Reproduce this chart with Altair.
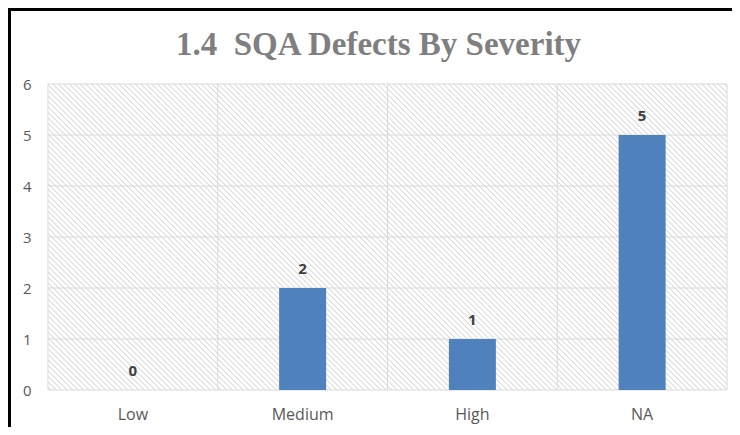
import altair as alt
import pandas as pd

# ---- data ----
categories = ["Low", "Medium", "High", "NA"]
counts = [0, 2, 1, 5]
y_ticks = [0, 1, 2, 3, 4, 5, 6]
title_text = "1.4\u00a0\u00a0SQA Defects By Severity"

# ---- layout / style ----
W, H = 679, 306
GRID = "#d9d9d9"
LABEL = "#595959"

df = pd.DataFrame({"severity": categories, "count": counts})
grid_df = pd.DataFrame({"count": y_ticks})
one = pd.DataFrame({"d": [0]})
title_df = pd.DataFrame({"t": [title_text]})

# diagonal "\\" hatch texture as one custom symbol path (style only)
P = 5.5
segs = []
c = -H + P / 2
while c < W:
    y0 = max(0.0, -c)
    y1 = min(float(H), W - c)
    if y1 > y0:
        segs.append(
            f"M{y0 + c - W / 2:.2f},{y0 - H / 2:.2f}L{y1 + c - W / 2:.2f},{y1 - H / 2:.2f}"
        )
    c += P
hatch_path = "".join(segs)

x_axis = alt.Axis(
    title=None, labelAngle=0, ticks=False, domain=False, grid=False,
    labelFontSize=16, labelColor=LABEL, labelFont="Open Sans",
    labelPadding=29, labelBaseline="alphabetic",
)
y_axis = alt.Axis(
    title=None, values=y_ticks, ticks=False, domain=False, grid=False,
    labelFontSize=15, labelColor=LABEL, labelFont="Open Sans", labelPadding=17,
)
x_scale = alt.Scale(paddingInner=0, paddingOuter=0)
y_scale = alt.Scale(domain=[0, 6], nice=False)

X = alt.X("severity:N", sort=categories, scale=x_scale, axis=x_axis)
Y = alt.Y("count:Q", scale=y_scale, axis=y_axis)

hatch = alt.Chart(one).mark_point(
    shape=hatch_path, size=4, filled=False, fill=None, stroke="#cdcdcd",
    strokeWidth=1, opacity=1,
).encode(x=alt.value(W / 2), y=alt.value(H / 2))

hgrid = alt.Chart(grid_df).mark_rule(color=GRID, strokeWidth=1).encode(y=Y)

vgrid = alt.Chart(df).mark_rule(color=GRID, strokeWidth=1).encode(
    x=alt.X("severity:N", sort=categories, scale=x_scale, axis=x_axis, bandPosition=0)
)

right_edge = alt.Chart(one).mark_rule(color=GRID, strokeWidth=1).encode(
    x=alt.value(W), y=alt.value(0), y2=alt.value(H)
)

bars = alt.Chart(df).mark_bar(size=47, color="#4f81bd").encode(x=X, y=Y)

labels = alt.Chart(df).mark_text(
    dy=-14, baseline="alphabetic", fontWeight="bold", fontSize=15,
    color="#404040", font="Open Sans",
).encode(x=X, y=Y, text="count:Q")

title = alt.Chart(title_df).mark_text(
    font="Liberation Serif", fontSize=33, fontWeight="bold", color="#7f7f7f",
    align="center", baseline="alphabetic",
).encode(x=alt.value(W / 2 - 9), y=alt.value(-29), text="t:N")

border_left = alt.Chart(one).mark_rule(color="black", strokeWidth=3).encode(
    x=alt.value(-38.5), y=alt.value(-76), y2=alt.value(H + 37)
)
border_top = alt.Chart(one).mark_rule(color="black", strokeWidth=3).encode(
    x=alt.value(-40), x2=alt.value(W + 5), y=alt.value(-74.5)
)

chart = alt.layer(
    hatch, hgrid, vgrid, right_edge, bars, labels, title, border_left, border_top
).properties(
    width=W,
    height=H,
    autosize=alt.AutoSizeParams(type="none"),
    padding={"left": 40, "top": 76, "right": 5, "bottom": 37},
    background="white",
).configure_view(stroke=None)

chart.save("out.html", embed_options={"renderer": "svg", "actions": False})
